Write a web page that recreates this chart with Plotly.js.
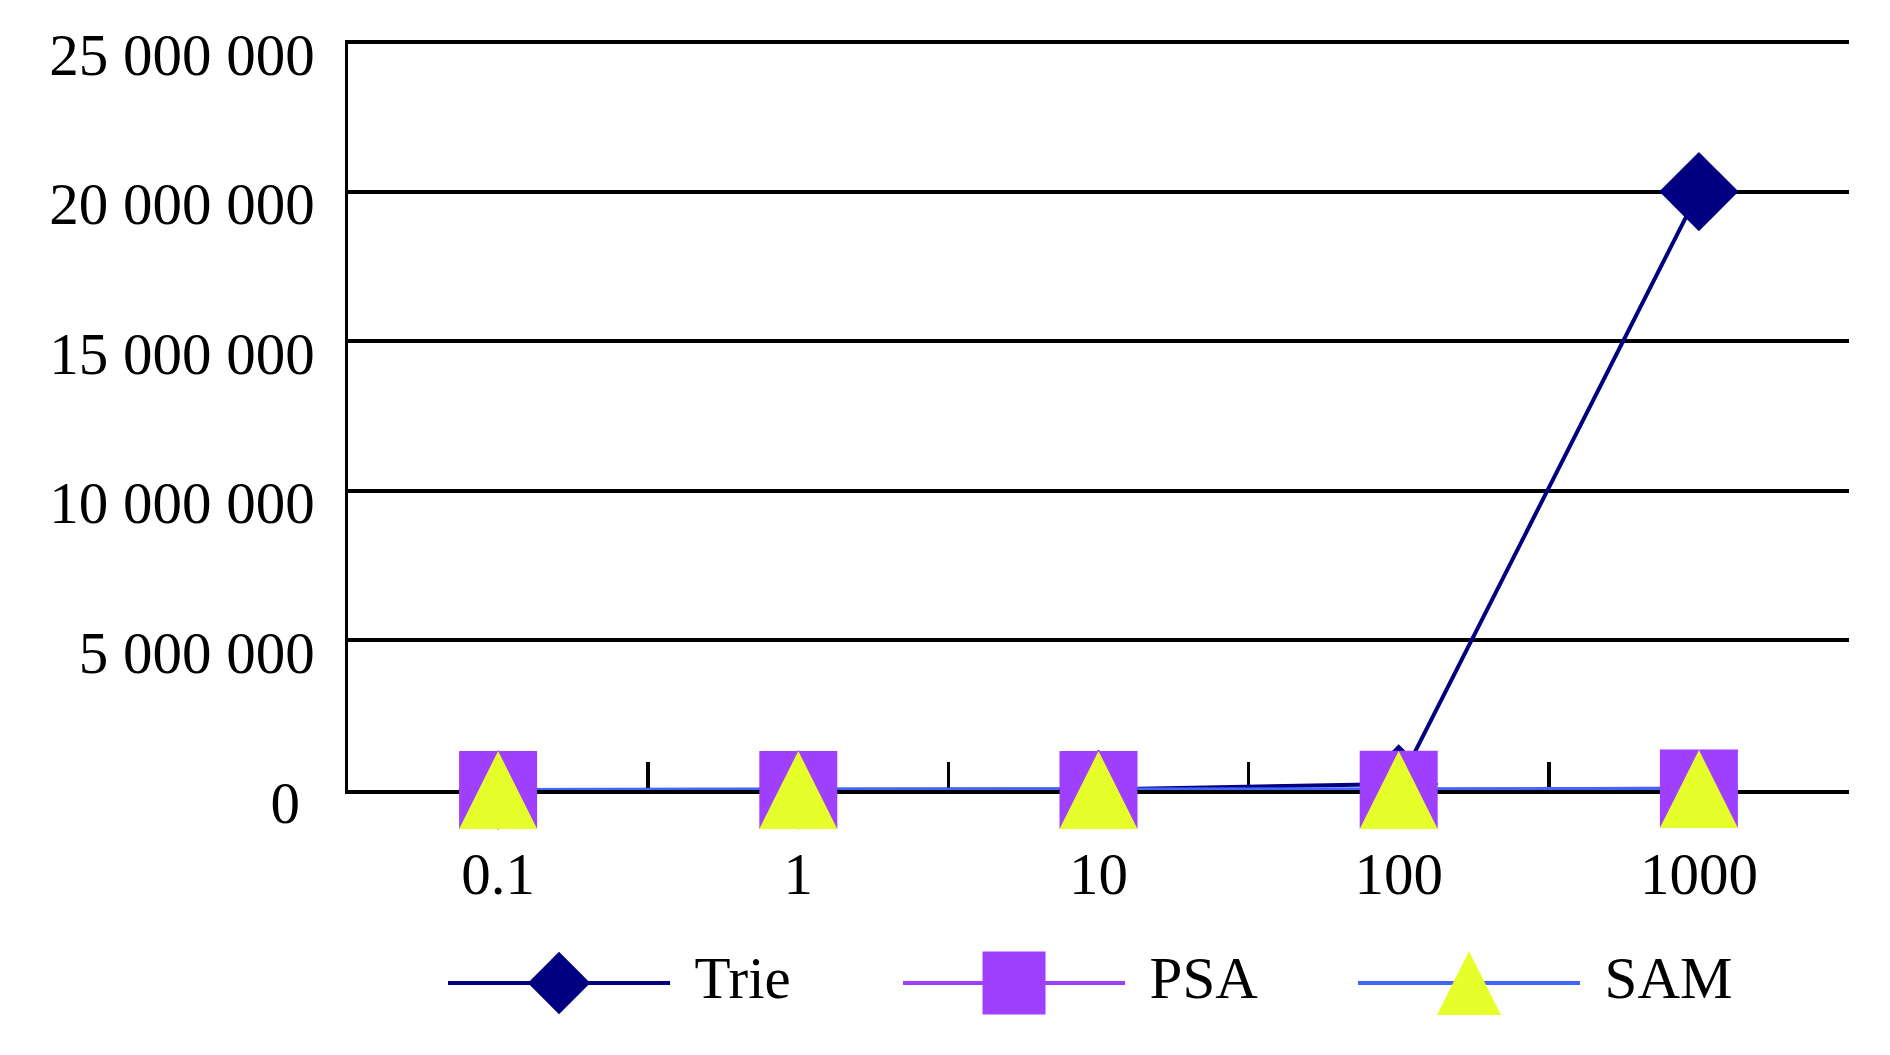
<!DOCTYPE html>
<html>
<head>
<meta charset="utf-8">
<script src="https://cdn.plot.ly/plotly-3.0.1.min.js"></script>
<style>
  html, body { margin: 0; padding: 0; background: #ffffff; }
  #chart { width: 1890px; height: 1055px; }
</style>
</head>
<body>
<div id="chart"></div>
<script>
// ---- data ----
const categories = ['0.1', '1', '10', '100', '1000'];
const trieValues = [200, 2000, 20000, 200000, 20000000];
const psaValues = [5, 50, 500, 5000, 50000];
const samValues = [3, 30, 300, 3000, 30000];
const seriesNames = ['Trie', 'PSA', 'SAM'];
const yTicks = [0, 5000000, 10000000, 15000000, 20000000, 25000000];
const yTickLabels = ['0\u00a0', '5 000 000', '10 000 000', '15 000 000', '20 000 000', '25 000 000'];

// ---- styles ----
const W = 1890, H = 1055;
const FONT = 'Liberation Serif, Times New Roman, serif';
const navy = '#000080';
const purple = '#A040FF';
const yellow = '#E6FF2A';
const blue = '#3F66FF';

const seriesValues = [trieValues, psaValues, samValues];
const lineColors = [navy, purple, blue];
const markerColors = [navy, purple, yellow];
const symbols = ['diamond', 'square', 'arrow-up'];
const mainSizes = [61, 78, 78];
const legSizes = [48, 63, 64];

// plot area in pixels (top = position of the 25 000 000 gridline)
const plotLeft = 348, plotRight = 1849, gridTop = 42, plotBottom = 790;
const headroomPx = 1.6; // keep the top gridline just inside the range so it is drawn
const yMin = 0, yTop = 25000000;
const unitsPerPx = (yTop - yMin) / (plotBottom - gridTop);
const yMax = yTop + headroomPx * unitsPerPx;
const plotTop = gridTop - headroomPx;
// arrow-up markers hang below their point; lift them by half their height via an overlay axis
const triShift = (mainSizes[2] / 2) * unitsPerPx;

const traces = [];
// all lines first (markers sit on top of every line)
seriesNames.forEach((name, i) => {
  traces.push({
    type: 'scatter', mode: 'lines', name: name,
    x: categories, y: seriesValues[i], xaxis: 'x', yaxis: 'y',
    line: { color: lineColors[i], width: 4 },
    cliponaxis: false, showlegend: false, hoverinfo: 'x+y+name'
  });
});
seriesNames.forEach((name, i) => {
  traces.push({
    type: 'scatter', mode: 'markers', name: name,
    x: categories, y: seriesValues[i], xaxis: 'x', yaxis: i === 2 ? 'y3' : 'y',
    marker: { symbol: symbols[i], size: mainSizes[i], color: markerColors[i], line: { width: 0 } },
    cliponaxis: false, showlegend: false, hoverinfo: 'skip'
  });
});

// custom legend drawn on a hidden helper axis (entries indexed by series)
const legDomain = [0.02, 0.1165];
const legPxPerUnit = (legDomain[1] - legDomain[0]) * H / 2;
const lineSpan = 0.488, textAt = 0.542;
seriesNames.forEach((name, i) => {
  traces.push({
    type: 'scatter', mode: 'lines', x: [i, i + lineSpan], y: [0, 0],
    xaxis: 'x2', yaxis: 'y2', line: { color: lineColors[i], width: 4 },
    showlegend: false, hoverinfo: 'skip', cliponaxis: false
  });
  const lift = i === 2 ? (legSizes[2] / 2) / legPxPerUnit : 0;
  traces.push({
    type: 'scatter', mode: 'markers', x: [i + lineSpan / 2], y: [lift],
    xaxis: 'x2', yaxis: 'y2',
    marker: { symbol: symbols[i], size: legSizes[i], color: markerColors[i], line: { width: 0 } },
    showlegend: false, hoverinfo: 'skip', cliponaxis: false
  });
  traces.push({
    type: 'scatter', mode: 'text', x: [i + textAt], y: [0], text: [name],
    textposition: 'middle right', xaxis: 'x2', yaxis: 'y2',
    textfont: { family: FONT, size: 59, color: '#000000' },
    showlegend: false, hoverinfo: 'skip', cliponaxis: false
  });
});

const layout = {
  width: W, height: H,
  margin: { l: 0, r: 0, t: 0, b: 0 },
  paper_bgcolor: '#ffffff', plot_bgcolor: '#ffffff',
  showlegend: false,
  font: { family: FONT, size: 59, color: '#000000' },
  xaxis: {
    type: 'category', domain: [plotLeft / W, plotRight / W], range: [-0.5, categories.length - 0.5],
    anchor: 'y', showline: true, linecolor: '#000000', linewidth: 3.5,
    showgrid: false, zeroline: false,
    ticks: 'inside', tickson: 'boundaries', ticklen: 28, tickwidth: 3.5, tickcolor: '#000000',
    tickfont: { family: FONT, size: 59, color: '#000000' },
    ticklabelstandoff: 30,
    layer: 'below traces', fixedrange: true
  },
  yaxis: {
    domain: [(H - plotBottom) / H, (H - plotTop) / H], range: [yMin, yMax],
    anchor: 'x', tickmode: 'array', tickvals: yTicks, ticktext: yTickLabels,
    showline: true, linecolor: '#000000', linewidth: 3.5,
    showgrid: true, gridcolor: '#000000', gridwidth: 4, zeroline: false,
    ticks: '', tickfont: { family: FONT, size: 59, color: '#000000' },
    ticklabelstandoff: 18, ticklabelshift: 12,
    layer: 'below traces', fixedrange: true
  },
  yaxis3: {
    overlaying: 'y', anchor: 'x', range: [yMin - triShift, yMax - triShift],
    visible: false, fixedrange: true
  },
  xaxis2: { domain: [448 / W, (448 + 3 * 455) / W], range: [0, 3], anchor: 'y2',
            visible: false, fixedrange: true },
  yaxis2: { domain: legDomain, range: [-1, 1], anchor: 'x2',
            visible: false, fixedrange: true }
};

Plotly.newPlot('chart', traces, layout, { displayModeBar: false, staticPlot: true });
</script>
</body>
</html>
